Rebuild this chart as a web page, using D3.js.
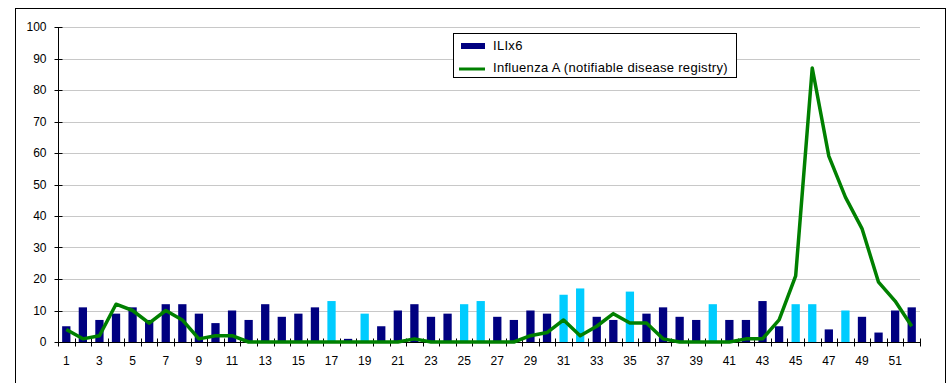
<!DOCTYPE html>
<html>
<head>
<meta charset="utf-8">
<script src="https://cdn.jsdelivr.net/npm/d3@7"></script>
<style>
  html, body { margin: 0; padding: 0; background: #fff; }
  svg { display: block; font-family: "Liberation Sans", Arial, sans-serif; }
</style>
</head>
<body>
<svg id="chart" width="949" height="383"></svg>
<script>
// Weekly surveillance: ILI x6 bars and notifiable Influenza A counts
const weeks = d3.range(1, 53);
const ilix6 = [5, 11, 7, 9, 11, 7, 12, 12, 9, 6, 10, 7, 12, 8, 9, 11, 13, 1, 9, 5,
               10, 12, 8, 9, 12, 13, 8, 7, 10, 9, 15, 17, 8, 7, 16, 9, 11, 8, 7, 12,
               7, 7, 13, 5, 12, 12, 4, 10, 8, 3, 10, 11];
// Weeks whose bar is drawn in the highlight colour
const highlightWeeks = [17, 19, 25, 26, 31, 32, 35, 40, 45, 46, 48];
const influenzaA = [4, 1, 2, 12, 10, 6, 10, 7, 1, 2, 2, 0, 0, 0, 0, 0, 0, 0, 0, 0,
                    0, 1, 0, 0, 0, 0, 0, 0, 2, 3, 7, 2, 5, 9, 6, 6, 1, 0, 0, 0,
                    0, 1, 1, 7, 21, 87, 59, 46, 36, 19, 13, 5];
const yTicks = d3.range(0, 101, 10);
const xLabels = weeks.filter(w => w % 2 === 1);
const seriesNames = ["ILIx6", "Influenza A (notifiable disease registry)"];

const colors = { bar: "#000080", barHi: "#00ccff", line: "#008000", grid: "#c8c8c8" };

const svg = d3.select("#chart");
const m = { left: 58, right: 920, top: 27, bottom: 342 };

// Outer chart border
svg.append("rect")
  .attr("x", 15.5).attr("y", 8.5)
  .attr("width", 930).attr("height", 400)
  .attr("fill", "none").attr("stroke", "#000").attr("stroke-width", 1);

const x = d3.scaleBand().domain(weeks).range([m.left, m.right]).paddingInner(0.5).paddingOuter(0.25);
const xEdge = d3.scaleLinear().domain([0, weeks.length]).range([m.left, m.right]);
const y = d3.scaleLinear().domain([0, 100]).range([m.bottom, m.top]);

// Horizontal gridlines
svg.append("g").selectAll("line").data(yTicks.filter(d => d > 0)).join("line")
  .attr("x1", m.left).attr("x2", m.right)
  .attr("y1", d => Math.round(y(d)) + 0.5).attr("y2", d => Math.round(y(d)) + 0.5)
  .attr("stroke", colors.grid).attr("stroke-width", 1);

// Bars
svg.append("g").selectAll("rect").data(weeks).join("rect")
  .attr("x", w => x(w))
  .attr("width", x.bandwidth())
  .attr("y", (w, i) => y(ilix6[i]))
  .attr("height", (w, i) => y(0) - y(ilix6[i]))
  .attr("fill", w => highlightWeeks.includes(w) ? colors.barHi : colors.bar);

// Y axis
const yAxis = svg.append("g").attr("transform", `translate(${m.left + 0.5},0)`);
yAxis.append("line").attr("y1", m.top).attr("y2", m.bottom).attr("stroke", "#000");
yAxis.selectAll("line.t").data(yTicks).join("line").attr("class", "t")
  .attr("x1", -4).attr("x2", 4)
  .attr("y1", d => Math.round(y(d)) + 0.5).attr("y2", d => Math.round(y(d)) + 0.5)
  .attr("stroke", "#000");
yAxis.selectAll("text").data(yTicks).join("text")
  .attr("x", -12).attr("y", d => y(d)).attr("dy", "0.36em")
  .attr("text-anchor", "end").attr("font-size", "12px").attr("fill", "#000")
  .text(d => d);

// X axis with ticks between categories
const xAxis = svg.append("g").attr("transform", `translate(0,${m.bottom + 0.5})`);
xAxis.append("line").attr("x1", m.left).attr("x2", m.right).attr("stroke", "#000");
xAxis.selectAll("line.t").data(d3.range(0, weeks.length + 1)).join("line").attr("class", "t")
  .attr("x1", i => Math.round(xEdge(i)) + 0.5).attr("x2", i => Math.round(xEdge(i)) + 0.5)
  .attr("y1", -4).attr("y2", 4).attr("stroke", "#000");
xAxis.selectAll("text").data(xLabels).join("text")
  .attr("x", w => x(w) + x.bandwidth() / 2).attr("y", 22.5)
  .attr("text-anchor", "middle").attr("font-size", "12px").attr("fill", "#000")
  .text(w => w);

// Influenza A line
const line = d3.line().x((d, i) => x(weeks[i]) + x.bandwidth() / 2).y(d => y(d));
svg.append("path").datum(influenzaA)
  .attr("d", line).attr("fill", "none")
  .attr("stroke", colors.line).attr("stroke-width", 3.5).attr("stroke-linejoin", "round");

// Legend
const lg = svg.append("g").attr("transform", "translate(453,33)");
lg.append("rect").attr("x", 0.5).attr("y", 0.5).attr("width", 283).attr("height", 44)
  .attr("fill", "#fff").attr("stroke", "#000");
lg.append("rect").attr("x", 8).attr("y", 10).attr("width", 24).attr("height", 6).attr("fill", colors.bar);
lg.append("line").attr("x1", 6).attr("x2", 32).attr("y1", 36).attr("y2", 36)
  .attr("stroke", colors.line).attr("stroke-width", 3);
lg.selectAll("text").data(seriesNames).join("text")
  .attr("x", 40).attr("y", (d, i) => 17 + i * 22)
  .attr("font-size", "13px").attr("letter-spacing", "0.3px").attr("fill", "#000")
  .text(d => d);
</script>
</body>
</html>
